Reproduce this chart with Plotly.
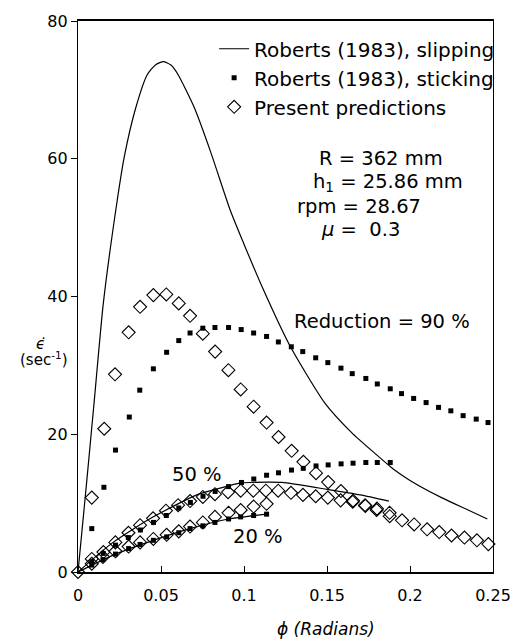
import plotly.graph_objects as go

# ---------------- data ----------------
# Roberts (1983), slipping  (solid lines)
phi_slip_90 = [0, 0.005, 0.0097, 0.0152, 0.0231, 0.0279, 0.0348, 0.0417, 0.047, 0.0515, 0.056, 0.0603,
               0.0701, 0.0799, 0.0916, 0.1, 0.1113, 0.128, 0.1485, 0.165, 0.178, 0.1897, 0.2, 0.219, 0.235, 0.2466]
rate_slip_90 = [0, 12.5, 24.6, 38.9, 53.1, 60.3, 67.4, 72.2, 73.7, 74.1, 73.6, 72.2,
                67.4, 61.0, 52.6, 47.6, 41.2, 32.7, 24.6, 20.2, 17.4, 15.0, 13.3, 10.8, 9.0, 7.7]
phi_slip_50 = [0, 0.0211, 0.0446, 0.0716, 0.0907, 0.0975, 0.115, 0.1229, 0.15, 0.17, 0.1873]
rate_slip_50 = [0, 4.3, 7.9, 11.2, 12.5, 12.9, 13.05, 13.0, 12.0, 11.2, 10.3]
phi_slip_20 = [0, 0.0226, 0.0454, 0.0675, 0.0907, 0.1136]
rate_slip_20 = [0, 2.6, 4.6, 6.3, 7.7, 8.4]

# Roberts (1983), sticking  (filled squares)
phi_stick_90 = [0.0083, 0.0156, 0.0226, 0.0309, 0.0372, 0.0454, 0.0534, 0.0607, 0.0675, 0.0752, 0.0825,
                0.0907, 0.0983, 0.1058, 0.1136, 0.1207, 0.1285, 0.1354, 0.1432, 0.1505, 0.1584, 0.1652,
                0.1734, 0.1803, 0.1881, 0.1949, 0.2022, 0.2097, 0.2172, 0.2246, 0.232, 0.2399, 0.247]
rate_stick_90 = [6.3, 12.3, 17.7, 22.5, 26.4, 29.5, 31.9, 33.6, 34.7, 35.4, 35.5,
                 35.5, 35.2, 34.7, 34.2, 33.4, 32.7, 32.0, 31.1, 30.4, 29.6, 28.8,
                 28.1, 27.3, 26.6, 25.9, 25.2, 24.6, 23.9, 23.4, 22.7, 22.2, 21.7]
phi_stick_50 = [0.0083, 0.0152, 0.0226, 0.0303, 0.0376, 0.0455, 0.0532, 0.0607, 0.0677, 0.0753, 0.0826,
                0.0907, 0.0985, 0.1059, 0.1136, 0.1208, 0.1286, 0.1357, 0.1434, 0.1507, 0.1585, 0.1657,
                0.1734, 0.1803, 0.1881]
rate_stick_50 = [1.5, 2.7, 3.9, 5.0, 6.1, 7.2, 8.2, 9.3, 10.1, 11.0, 11.7,
                 12.4, 13.0, 13.5, 14.05, 14.4, 14.8, 15.05, 15.4, 15.55, 15.7, 15.8,
                 15.9, 15.9, 15.9]
phi_stick_20 = [0.0083, 0.015, 0.0226, 0.0305, 0.0374, 0.0454, 0.0534, 0.0607, 0.0675, 0.0752, 0.0825,
                0.0907, 0.098, 0.1058, 0.1136]
rate_stick_20 = [1.0, 1.8, 2.6, 3.4, 4.0, 4.6, 5.1, 5.7, 6.3, 6.7, 7.2, 7.7, 8.0, 8.2, 8.4]

# Present predictions  (open diamonds)
phi_pred_90 = [0, 0.0083, 0.0158, 0.0223, 0.0305, 0.0374, 0.0454, 0.0532, 0.0607, 0.0675, 0.0752, 0.0826,
               0.0906, 0.098, 0.1058, 0.1136, 0.1208, 0.1287, 0.1358, 0.1434, 0.1507, 0.1584, 0.1657,
               0.1731, 0.1799, 0.1878, 0.1952, 0.2025, 0.2103, 0.2176, 0.225, 0.2328, 0.2403, 0.2472]
rate_pred_90 = [0, 10.8, 20.8, 28.7, 34.8, 38.5, 40.2, 40.3, 39.0, 37.2, 34.6, 32.0,
                29.3, 26.5, 24.0, 21.7, 19.6, 17.6, 16.0, 14.35, 13.05, 11.75, 10.35,
                9.6, 9.0, 8.1, 7.5, 6.9, 6.2, 5.8, 5.3, 5.0, 4.6, 4.05]
phi_pred_50 = [0.0083, 0.0153, 0.0225, 0.0304, 0.0374, 0.0452, 0.053, 0.0603, 0.0675, 0.0752, 0.0825,
               0.0904, 0.098, 0.1056, 0.1132, 0.1206, 0.1283, 0.1355, 0.1432, 0.1505, 0.1582, 0.1655,
               0.1729, 0.1801, 0.1877]
rate_pred_50 = [1.9, 2.9, 4.3, 5.7, 6.8, 7.8, 8.9, 9.7, 10.3, 10.9, 11.3,
                11.6, 11.8, 11.8, 11.8, 11.8, 11.5, 11.2, 11.0, 10.8, 10.4, 10.2,
                9.7, 9.2, 8.6]
phi_pred_20 = [0.0083, 0.015, 0.0226, 0.0305, 0.0374, 0.0454, 0.0534, 0.0607, 0.0675, 0.0752, 0.0825,
               0.0907, 0.098, 0.1058, 0.1136]
rate_pred_20 = [1.2, 2.2, 3.0, 3.7, 4.3, 4.8, 5.4, 5.9, 6.6, 7.2, 8.0, 8.6, 9.0, 9.5, 9.9]

x_ticks = [0, 0.05, 0.1, 0.15, 0.2, 0.25]
x_tick_labels = ["0", "0.05", "0.1", "0.15", "0.2", "0.25"]
y_ticks = [0, 20, 40, 60, 80]

legend_names = ["Roberts (1983), slipping", "Roberts (1983), sticking", "Present predictions"]

# ---------------- figure ----------------
FONT = "DejaVu Sans"
fig = go.Figure()

def join(*pairs):
    xs, ys = [], []
    for i, (a, b) in enumerate(pairs):
        if i:
            xs.append(None); ys.append(None)
        xs += a; ys += b
    return xs, ys

sx, sy = join((phi_slip_90, rate_slip_90), (phi_slip_50, rate_slip_50), (phi_slip_20, rate_slip_20))
fig.add_trace(go.Scatter(x=sx, y=sy, mode="lines", name=legend_names[0],
                         line=dict(color="black", width=1.2, shape="spline", smoothing=0.6),
                         connectgaps=False, cliponaxis=False))

kx = phi_stick_90 + phi_stick_50 + phi_stick_20
ky = rate_stick_90 + rate_stick_50 + rate_stick_20
fig.add_trace(go.Scatter(x=kx, y=ky, mode="markers", name=legend_names[1],
                         marker=dict(symbol="square", size=5, color="black"), cliponaxis=False))

px_ = phi_pred_90 + phi_pred_50 + phi_pred_20
py_ = rate_pred_90 + rate_pred_50 + rate_pred_20
fig.add_trace(go.Scatter(x=px_, y=py_, mode="markers", name=legend_names[2],
                         marker=dict(symbol="diamond-open", size=10, color="black",
                                     line=dict(width=1.1, color="black")),
                         cliponaxis=False))

def note(text, x, y, size=19.5, xanchor="left", xref="x", yref="y"):
    fig.add_annotation(text=text, x=x, y=y, xref=xref, yref=yref, showarrow=False,
                       xanchor=xanchor, yanchor="middle",
                       font=dict(family=FONT, size=size, color="black"))

note("R = 362 mm", 0.1441, 60.0)
note("h<sub>1</sub> = 25.86 mm", 0.1406, 56.6)
note("rpm = 28.67", 0.1306, 53.1)
note("<i>μ</i> =  0.3", 0.1453, 49.7)
note("Reduction = 90 %", 0.1288, 36.4)
note("50 %", 0.0553, 14.1)
note("20 %", 0.0924, 5.1)

# axis titles (placed as text)
note("<i>ϵ̇</i>", -0.0894, (572 - 340) / 560, size=15, xanchor="center", xref="paper", yref="paper")
note("(sec<sup>-1</sup>)", -0.082, (572 - 356) / 560, size=15, xanchor="center", xref="paper", yref="paper")
note("<i>ϕ (Radians)</i>", (332 - 78) / 425, (572 - 630) / 560, size=17, xanchor="center",
     xref="paper", yref="paper")

fig.update_layout(
    width=523, height=642,
    margin=dict(l=78, r=20, t=12, b=70),
    paper_bgcolor="white", plot_bgcolor="white",
    font=dict(family=FONT, color="black"),
    showlegend=True,
    legend=dict(x=0.328, y=0.985, xanchor="left", yanchor="top",
                bgcolor="rgba(0,0,0,0)", font=dict(family=FONT, size=20),
                itemwidth=30, tracegroupgap=0),
    xaxis=dict(range=[0, 0.25], tickvals=x_ticks, ticktext=x_tick_labels,
               ticks="inside", ticklen=6, tickcolor="black", tickwidth=1,
               showline=True, linecolor="black", linewidth=1.5, mirror=True,
               showgrid=False, zeroline=False, ticklabelstandoff=8,
               tickfont=dict(family=FONT, size=16)),
    yaxis=dict(range=[0, 80], tickvals=y_ticks,
               ticks="outside", ticklen=6, tickcolor="black", tickwidth=1,
               showline=True, linecolor="black", linewidth=1.2, mirror=True,
               showgrid=False, zeroline=False,
               tickfont=dict(family=FONT, size=16)),
)

fig.write_html("out.html")
